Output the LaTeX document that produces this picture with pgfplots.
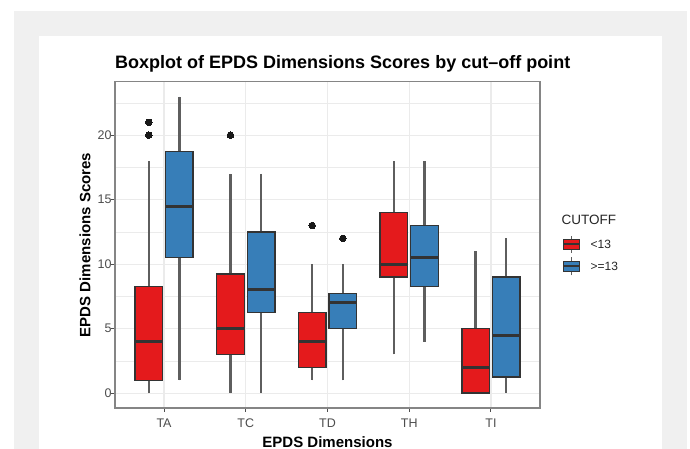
\documentclass[border=0pt]{standalone}
\usepackage{pgfplots}
\pgfplotsset{compat=1.18}
\usepgfplotslibrary{statistics}
\usepackage{fontspec}
\setmainfont{Liberation Sans}
\definecolor{bgray}{HTML}{F0F0F0}
\definecolor{setred}{HTML}{E41A1C}
\definecolor{setblue}{HTML}{377EB8}
\definecolor{gridc}{HTML}{EBEBEB}
\definecolor{boxc}{HTML}{333333}
\definecolor{whc}{HTML}{5E5E5E}
\definecolor{tickc}{HTML}{4D4D4D}
\definecolor{framec}{HTML}{858585}
\pgfplotsset{
  redbox/.style={draw=boxc, fill=setred, line width=1.4pt,
    mark=*, mark size=3.3pt, mark options={draw=black!90, fill=black!90, line width=0pt},
    boxplot/box extend=0.3375, boxplot/whisker extend=0,
    boxplot/every whisker/.style={draw=whc, line width=2.4pt},
    boxplot/every median/.style={draw=boxc, line width=3pt}},
  bluebox/.style={redbox, fill=setblue},
}
\begin{document}
\begin{tikzpicture}[x=1pt,y=1pt]
\useasboundingbox (0,0) rectangle (690,449);
\fill[bgray] (14,0) rectangle (687,438);
\fill[white] (39,0) rectangle (662,413);
\begin{axis}[at={(115pt,41pt)}, anchor=south west, scale only axis,
  width=425pt, height=326.3pt,
  xmin=0.4, xmax=5.6, ymin=-1.15, ymax=24.15,
  xtick={1,2,3,4,5}, xticklabels={TA,TC,TD,TH,TI},
  ytick={0,5,10,15,20}, minor ytick={2.5,7.5,12.5,17.5,22.5},
  xtick pos=bottom, ytick pos=left,
  grid=both,
  major grid style={draw=gridc, line width=1.3pt},
  minor grid style={draw=gridc, line width=0.7pt},
  axis line style={draw=framec, line width=1.3pt},
  tick align=outside, major tick length=4pt, minor tick length=0pt,
  major tick style={draw=tickc, line width=1pt},
  ticklabel style={font=\fontsize{12.5}{14}\selectfont, text=tickc},
  xticklabel style={yshift=-3.5pt},
  yticklabel style={xshift=4pt},
  /pgf/number format/assume math mode=true,
  boxplot/draw direction=y,
]
% TA
\addplot[redbox, boxplot prepared={draw position=0.8125, lower whisker=0, lower quartile=1, median=4, upper quartile=8.25, upper whisker=18}] coordinates {(0,20) (0,21)};
\addplot[bluebox, boxplot prepared={draw position=1.1875, lower whisker=1, lower quartile=10.5, median=14.5, upper quartile=18.75, upper whisker=23}] coordinates {};
% TC
\addplot[redbox, boxplot prepared={draw position=1.8125, lower whisker=0, lower quartile=3, median=5, upper quartile=9.25, upper whisker=17}] coordinates {(0,20)};
\addplot[bluebox, boxplot prepared={draw position=2.1875, lower whisker=0, lower quartile=6.25, median=8, upper quartile=12.5, upper whisker=17}] coordinates {};
% TD
\addplot[redbox, boxplot prepared={draw position=2.8125, lower whisker=1, lower quartile=2, median=4, upper quartile=6.25, upper whisker=10}] coordinates {(0,13)};
\addplot[bluebox, boxplot prepared={draw position=3.1875, lower whisker=1, lower quartile=5, median=7, upper quartile=7.75, upper whisker=10}] coordinates {(0,12)};
% TH
\addplot[redbox, boxplot prepared={draw position=3.8125, lower whisker=3, lower quartile=9, median=10, upper quartile=14, upper whisker=18}] coordinates {};
\addplot[bluebox, boxplot prepared={draw position=4.1875, lower whisker=4, lower quartile=8.25, median=10.5, upper quartile=13, upper whisker=18}] coordinates {};
% TI
\addplot[redbox, boxplot prepared={draw position=4.8125, lower whisker=0, lower quartile=0, median=2, upper quartile=5, upper whisker=11}] coordinates {};
\addplot[bluebox, boxplot prepared={draw position=5.1875, lower whisker=0, lower quartile=1.25, median=4.5, upper quartile=9, upper whisker=12}] coordinates {};
\end{axis}
\node[anchor=base west, inner sep=0pt, font=\bfseries\fontsize{18}{20}\selectfont] at (115,380) {Boxplot of EPDS Dimensions Scores by cut–off point};
\node[rotate=90, inner sep=0pt, font=\bfseries\fontsize{15}{17}\selectfont] at (85,204.1) {EPDS Dimensions Scores};
\node[inner sep=0pt, font=\bfseries\fontsize{15}{17}\selectfont] at (327.5,7.3) {EPDS Dimensions};
% legend
\node[anchor=base west, inner sep=0pt, font=\fontsize{13.5}{15}\selectfont, text=black!85] at (561.5,224) {CUTOFF};
\draw[whc, line width=1.5pt] (571.5,196) -- (571.5,213);
\filldraw[fill=setred, draw=boxc, line width=1.2pt] (563.5,199.7) rectangle (579.5,209.7);
\draw[boxc, line width=2pt] (563.5,204.7) -- (579.5,204.7);
\draw[whc, line width=1.5pt] (571.5,173.5) -- (571.5,191.5);
\filldraw[fill=setblue, draw=boxc, line width=1.2pt] (563.5,177.7) rectangle (579.5,187.7);
\draw[boxc, line width=2pt] (563.5,182.7) -- (579.5,182.7);
\node[anchor=west, inner sep=0pt, font=\fontsize{12}{14}\selectfont, text=black!85] at (590.5,204.7) {<13};
\node[anchor=west, inner sep=0pt, font=\fontsize{12}{14}\selectfont, text=black!85] at (590.5,182.7) {>=13};
\end{tikzpicture}
\end{document}
